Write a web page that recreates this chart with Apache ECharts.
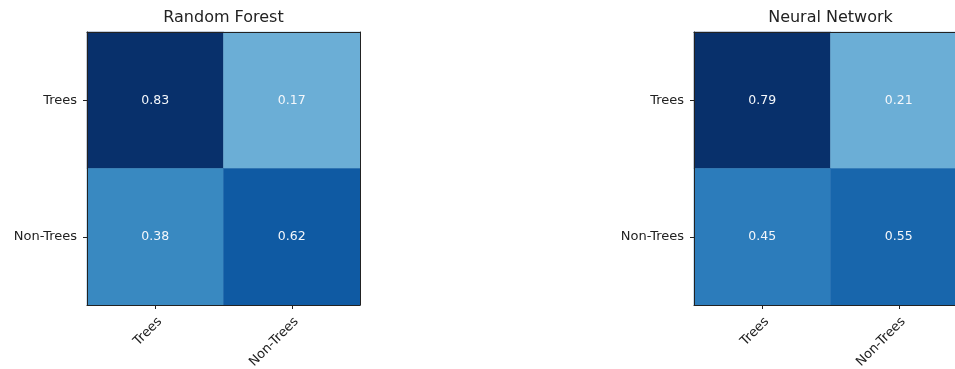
<!DOCTYPE html>
<html>
<head>
<meta charset="utf-8">
<script src="https://cdn.jsdelivr.net/npm/echarts@6/dist/echarts.min.js"></script>
<style>
  html, body { margin: 0; padding: 0; background: #fff; }
  #chart { width: 955px; height: 369px; }
</style>
</head>
<body>
<div id="chart"></div>
<script>
// Class labels shared by both confusion matrices (rows: actual, columns: predicted)
const classes = ['Trees', 'Non-Trees'];

// Normalised confusion matrices, one row per actual class
const randomForest = [
  [0.83, 0.17],
  [0.38, 0.62]
];
const neuralNetwork = [
  [0.79, 0.21],
  [0.45, 0.55]
];

const modelNames = ['Random Forest', 'Neural Network'];
const matrices = [randomForest, neuralNetwork];

// Upper half of the "Blues" ramp: lowest cell is mid blue, highest is navy
const bluesUpper = ['#6baed6', '#4292c6', '#2171b5', '#08519c', '#08306b'];

const FONT = 'DejaVu Sans';
const panelLeft = [87, 694];
const panelTop = 32;
const panelSize = 273;

function toCells(m) {
  const out = [];
  m.forEach((row, r) => row.forEach((v, c) => out.push([c, r, v])));
  return out;
}

const grids = [], xAxes = [], yAxes = [], series = [], visualMaps = [], titles = [];

matrices.forEach((m, i) => {
  // the second panel runs past the right edge of the canvas and is clipped there
  grids.push({
    left: panelLeft[i], top: panelTop, width: panelSize, height: panelSize,
    outerBoundsMode: 'none', containLabel: false
  });
  const flat = m.flat();

  titles.push({
    text: modelNames[i],
    left: panelLeft[i] + panelSize / 2,
    top: 10,
    textAlign: 'center',
    padding: 0,
    textStyle: { fontFamily: FONT, fontSize: 16, fontWeight: 'normal', color: '#222' }
  });

  // bottom axis with ticks and rotated labels
  xAxes.push({
    type: 'category', data: classes, gridIndex: i, position: 'bottom', z: 5,
    axisLine: { show: true, lineStyle: { color: '#222', width: 1 } },
    axisTick: { show: true, alignWithLabel: true, length: 4, lineStyle: { color: '#222' } },
    axisLabel: {
      rotate: 45, margin: 10, verticalAlign: 'top', align: 'right',
      fontFamily: FONT, fontSize: 13, color: '#222'
    },
    splitLine: { show: false }
  });
  // top frame edge
  xAxes.push({
    type: 'category', data: classes, gridIndex: i, position: 'top', z: 5,
    axisLine: { show: true, lineStyle: { color: '#222', width: 1 } },
    axisTick: { show: false }, axisLabel: { show: false }, splitLine: { show: false }
  });
  // left axis with ticks and labels
  yAxes.push({
    type: 'category', data: classes, gridIndex: i, position: 'left', inverse: true, z: 5,
    axisLine: { show: true, lineStyle: { color: '#222', width: 1 } },
    axisTick: { show: true, alignWithLabel: true, length: 4, lineStyle: { color: '#222' } },
    axisLabel: { margin: 10, fontFamily: FONT, fontSize: 13, color: '#222' },
    splitLine: { show: false }
  });
  // right frame edge
  yAxes.push({
    type: 'category', data: classes, gridIndex: i, position: 'right', inverse: true, z: 5,
    axisLine: { show: true, lineStyle: { color: '#222', width: 1 } },
    axisTick: { show: false }, axisLabel: { show: false }, splitLine: { show: false }
  });

  series.push({
    type: 'heatmap',
    xAxisIndex: i * 2,
    yAxisIndex: i * 2,
    data: toCells(m),
    label: {
      show: true,
      fontFamily: FONT, fontSize: 12.5, color: '#f4f7fb',
      formatter: p => p.value[2].toFixed(2)
    },
    emphasis: { disabled: true }
  });

  visualMaps.push({
    show: false, type: 'continuous', seriesIndex: i, dimension: 2,
    min: Math.min(...flat), max: Math.max(...flat),
    inRange: { color: bluesUpper }
  });
});

const chart = echarts.init(document.getElementById('chart'), null, { renderer: 'canvas' });
chart.setOption({
  animation: false,
  backgroundColor: '#fff',
  title: titles,
  grid: grids,
  xAxis: xAxes,
  yAxis: yAxes,
  visualMap: visualMaps,
  series: series
});
</script>
</body>
</html>
